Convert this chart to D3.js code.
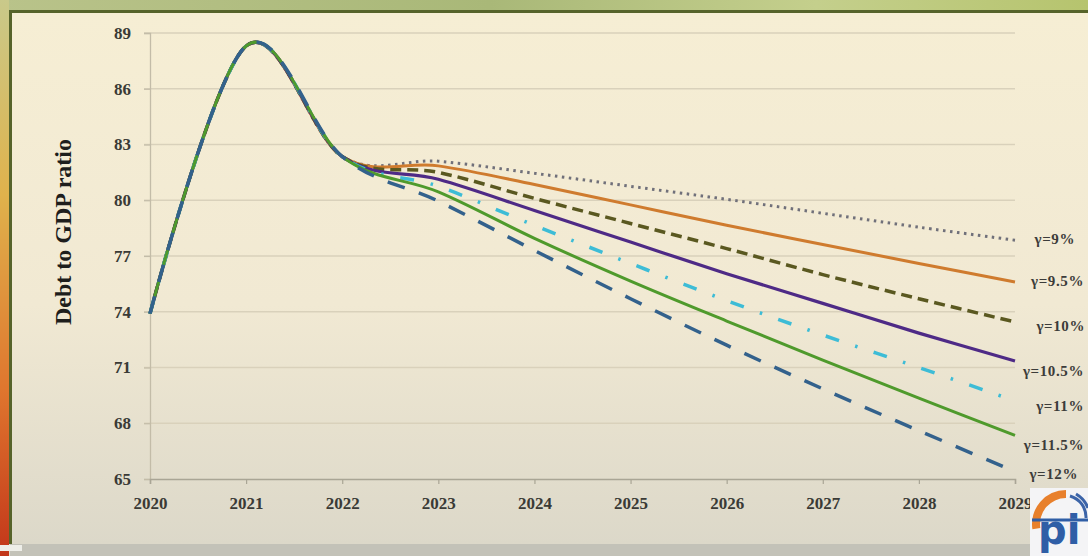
<!DOCTYPE html>
<html>
<head>
<meta charset="utf-8">
<script src="https://cdn.jsdelivr.net/npm/d3@7"></script>
<style>
  html, body { margin: 0; padding: 0; overflow: hidden; background: #e6e2cf; }
  svg { display: block; }
</style>
</head>
<body>
<svg id="chart" width="1088" height="556"></svg>
<script>
// ---- data ----
const years = [2020, 2021, 2022, 2023, 2024, 2025, 2026, 2027, 2028, 2029];
// common history (2020-2022) shared by every scenario
const history = [73.9, 88.3, 82.35];
// projected debt-to-GDP ratio for each nominal growth rate (2023-2029)
const gamma9   = [82.1, 81.45, 80.75, 80.05, 79.3, 78.55, 77.85];
const gamma9_5 = [81.85, 80.85, 79.75, 78.65, 77.62, 76.6, 75.6];
const gamma10  = [81.5, 80.1, 78.75, 77.4, 76.0, 74.7, 73.45];
const gamma10_5 = [81.13, 79.45, 77.75, 76.05, 74.45, 72.85, 71.35];
const gamma11  = [80.75, 78.65, 76.6, 74.6, 72.75, 71.0, 69.2];
const gamma11_5 = [80.45, 77.95, 75.65, 73.5, 71.4, 69.35, 67.35];
const gamma12  = [79.95, 77.3, 74.7, 72.2, 69.85, 67.6, 65.4];
const seriesNames = ["γ=9%", "γ=9.5%", "γ=10%", "γ=10.5%", "γ=11%", "γ=11.5%", "γ=12%"];
const yTicks = [65, 68, 71, 74, 77, 80, 83, 86, 89];
const yTitle = "Debt to GDP ratio";

// ---- styles ----
const serif = "'Liberation Serif', 'Times New Roman', serif";
const seriesStyle = [
  { color: "#70707a", width: 3,   dash: "2.5,4.5" },
  { color: "#cf7b2e", width: 3,   dash: null },
  { color: "#5a5820", width: 3.5, dash: "11,6" },
  { color: "#4e2a86", width: 3.2, dash: null },
  { color: "#3dbcd6", width: 3.5, dash: "14,17,2.5,17" },
  { color: "#4f9a2c", width: 3,   dash: null },
  { color: "#33618c", width: 3.5, dash: "18,15" }
];
// label placement relative to the end of each line
const labelOffset = [
  { x: 1075, dy: 4 }, { x: 1084, dy: 4 }, { x: 1085, dy: 9 },
  { x: 1084, dy: 15 }, { x: 1084, dy: 10 }, { x: 1084, dy: 15 }, { x: 1078, dy: 7 }
];

const svg = d3.select("#chart");
const W = 1088, H = 556;
const defs = svg.append("defs");

// background gradients
const gTop = defs.append("linearGradient").attr("id", "topStrip").attr("x1", 0).attr("x2", 1).attr("y1", 0).attr("y2", 0);
gTop.append("stop").attr("offset", "0%").attr("stop-color", "#b9c38a");
gTop.append("stop").attr("offset", "45%").attr("stop-color", "#a9b878");
gTop.append("stop").attr("offset", "75%").attr("stop-color", "#c4cf8c");
gTop.append("stop").attr("offset", "100%").attr("stop-color", "#b6c46e");

const gLeft = defs.append("linearGradient").attr("id", "leftStrip").attr("x1", 0).attr("x2", 0).attr("y1", 0).attr("y2", 1);
gLeft.append("stop").attr("offset", "0%").attr("stop-color", "#c9c98a");
gLeft.append("stop").attr("offset", "35%").attr("stop-color", "#e0b24c");
gLeft.append("stop").attr("offset", "70%").attr("stop-color", "#e0762e");
gLeft.append("stop").attr("offset", "100%").attr("stop-color", "#c2361a");

const gPanel = defs.append("linearGradient").attr("id", "panel").attr("x1", 0).attr("x2", 0).attr("y1", 0).attr("y2", 1);
gPanel.append("stop").attr("offset", "0%").attr("stop-color", "#f6eed4");
gPanel.append("stop").attr("offset", "55%").attr("stop-color", "#f1e9d3");
gPanel.append("stop").attr("offset", "100%").attr("stop-color", "#dcd8c9");

svg.append("rect").attr("x", 0).attr("y", 0).attr("width", W).attr("height", H).attr("fill", "#e3dfcd");
svg.append("rect").attr("x", 0).attr("y", 0).attr("width", W).attr("height", 11).attr("fill", "url(#topStrip)");
svg.append("rect").attr("x", 0).attr("y", 0).attr("width", 9).attr("height", H).attr("fill", "url(#leftStrip)");
svg.append("rect").attr("x", 10).attr("y", 11).attr("width", W - 10).attr("height", 533).attr("fill", "url(#panel)");
// frame
svg.append("path").attr("d", `M10.5,${H - 12}V11.5H${W}`).attr("fill", "none").attr("stroke", "#56632a").attr("stroke-width", 3);
svg.append("rect").attr("x", 10).attr("y", 544).attr("width", W - 10).attr("height", 12).attr("fill", "#c3c2b8");
svg.append("rect").attr("x", 0).attr("y", 545).attr("width", 22).attr("height", 6).attr("fill", "#eeeee8");

// ---- scales ----
const x = d3.scaleLinear().domain([2020, 2029]).range([150, 1015]);
const y = d3.scaleLinear().domain([65, 89]).range([479, 33]);

// gridlines
svg.append("g").selectAll("line").data(yTicks.filter(v => v > 65)).join("line")
  .attr("x1", 144).attr("x2", x(2029))
  .attr("y1", d => y(d)).attr("y2", d => y(d))
  .attr("stroke", "#d9d1bb").attr("stroke-width", 1.3);

// y axis
const yAxis = svg.append("g").attr("transform", `translate(${x(2020)},0)`)
  .call(d3.axisLeft(y).tickValues(yTicks).tickSize(6).tickPadding(13).tickFormat(d3.format("d")));
yAxis.select(".domain").attr("stroke", "#c3bca8").attr("stroke-width", 1.3);
yAxis.selectAll(".tick line").attr("stroke", "#c3bca8").attr("stroke-width", 1.2);
yAxis.selectAll(".tick text")
  .attr("font-family", serif)
  .attr("font-weight", "bold").attr("font-size", 17).attr("fill", "#3a3a36");

// x axis
const xAxis = svg.append("g").attr("transform", `translate(0,${y(65)})`)
  .call(d3.axisBottom(x).tickValues(years).tickSize(5).tickPadding(13).tickFormat(d3.format("d")));
xAxis.select(".domain").attr("stroke", "#a9a595").attr("stroke-width", 1.5);
xAxis.selectAll(".tick line").attr("stroke", "#a9a595").attr("stroke-width", 1.2);
xAxis.selectAll(".tick text")
  .attr("font-family", serif)
  .attr("font-weight", "bold").attr("font-size", 17).attr("fill", "#3a3a36");

// y title
svg.append("text")
  .attr("transform", `translate(71,232) rotate(-90)`)
  .attr("text-anchor", "middle")
  .attr("font-family", serif)
  .attr("font-weight", "bold").attr("font-size", 24).attr("fill", "#1e1e1c")
  .text(yTitle);

// ---- lines ----
const projections = [gamma9, gamma9_5, gamma10, gamma10_5, gamma11, gamma11_5, gamma12];
const series = projections.map((p, i) => ({
  name: seriesNames[i],
  values: history.concat(p).map((v, j) => ({ year: years[j], value: v })),
  style: seriesStyle[i],
  label: labelOffset[i]
}));

const line = d3.line()
  .x(d => x(d.year)).y(d => y(d.value))
  .curve(d3.curveCardinal.tension(0));

svg.append("g").selectAll("path").data(series).join("path")
  .attr("d", d => line(d.values))
  .attr("fill", "none")
  .attr("stroke", d => d.style.color)
  .attr("stroke-width", d => d.style.width)
  .attr("stroke-dasharray", d => d.style.dash);

// series labels
svg.append("g").selectAll("text").data(series).join("text")
  .attr("x", d => d.label.x)
  .attr("y", d => y(d.values[d.values.length - 1].value) + d.label.dy)
  .attr("text-anchor", "end")
  .attr("font-family", serif)
  .attr("font-weight", "bold").attr("font-size", 15).attr("letter-spacing", 0.6)
  .attr("fill", "#3c3c3a")
  .text(d => d.name);

// corner logo
const logo = svg.append("g").attr("transform", "translate(1030,488)");
logo.append("rect").attr("width", 58).attr("height", 68).attr("fill", "#f4f4f6");
logo.append("path").attr("d", d3.arc()({ innerRadius: 26, outerRadius: 34, startAngle: -Math.PI * 0.55, endAngle: 0 }))
  .attr("transform", "translate(36,36)").attr("fill", "#e8802c");
logo.append("path").attr("d", "M40,8 A22,22 0 0 1 56,30").attr("fill", "none").attr("stroke", "#3c64a8").attr("stroke-width", 3);
logo.append("path").attr("d", "M46,6 A28,28 0 0 1 58,20").attr("fill", "none").attr("stroke", "#3c64a8").attr("stroke-width", 3);
logo.append("text").attr("x", 8).attr("y", 56)
  .attr("font-family", "'DejaVu Sans', sans-serif").attr("font-weight", "bold")
  .attr("font-size", 40).attr("fill", "#2f5ea6").text("pi");
logo.append("line").attr("x1", 2).attr("x2", 58).attr("y1", 32).attr("y2", 32).attr("stroke", "#2f5ea6").attr("stroke-width", 3);
</script>
</body>
</html>
